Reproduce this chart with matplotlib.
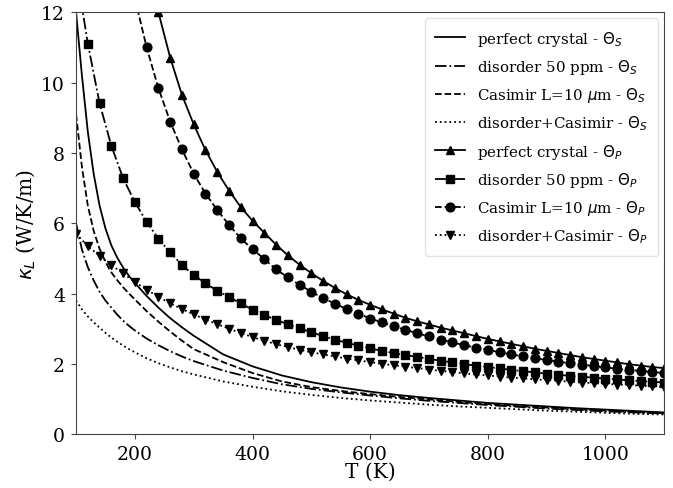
import matplotlib
matplotlib.use("Agg")
import matplotlib.pyplot as plt
import numpy as np

# Temperatures (K)
T_S = [100, 110, 120, 130, 140, 150, 160, 170, 180, 190, 200, 220, 240, 260, 280,
       300, 350, 400, 450, 500, 550, 600, 650, 700, 750, 800, 850, 900, 950, 1000,
       1050, 1100]
T_P = list(range(100, 1101, 20))

# Theta_S series (lines only)
perfect_S = [12.0, 10.2, 8.6, 7.4, 6.5, 5.85, 5.37, 5.02, 4.74, 4.50, 4.30, 3.93, 3.60,
             3.30, 3.04, 2.80, 2.27, 1.93, 1.67, 1.48, 1.33, 1.21, 1.11, 1.03, 0.96,
             0.89, 0.84, 0.79, 0.74, 0.70, 0.66, 0.62]
disorder_S = [6.0, 5.25, 4.75, 4.37, 4.05, 3.80, 3.60, 3.40, 3.23, 3.08, 2.95, 2.72,
              2.53, 2.36, 2.21, 2.08, 1.81, 1.60, 1.42, 1.29, 1.19, 1.10, 1.02, 0.95,
              0.89, 0.83, 0.78, 0.73, 0.69, 0.65, 0.62, 0.59]
casimir_S = [9.1, 7.6, 6.5, 5.78, 5.27, 4.90, 4.60, 4.38, 4.18, 4.0, 3.83, 3.50, 3.20,
             2.92, 2.66, 2.42, 2.05, 1.74, 1.50, 1.34, 1.23, 1.14, 1.06, 0.99, 0.92,
             0.86, 0.80, 0.76, 0.71, 0.67, 0.63, 0.60]
dc_S = [3.8, 3.55, 3.35, 3.18, 3.03, 2.88, 2.75, 2.63, 2.52, 2.42, 2.33, 2.16, 2.02,
        1.90, 1.79, 1.70, 1.50, 1.35, 1.22, 1.12, 1.03, 0.96, 0.90, 0.84, 0.79, 0.75,
        0.71, 0.67, 0.64, 0.61, 0.58, 0.56]

# Theta_P series (lines + markers), every 20 K from 100 K
perfect_P = [None]*7 + [12.0, 10.71, 9.65, 8.81, 8.08, 7.46, 6.93, 6.46, 6.07, 5.73,
             5.39, 5.09, 4.82, 4.58, 4.36, 4.16, 3.98, 3.82, 3.68, 3.55, 3.43, 3.31,
             3.21, 3.12, 3.03, 2.95, 2.87, 2.79, 2.71, 2.64, 2.57, 2.50, 2.43, 2.37,
             2.31, 2.25, 2.19, 2.14, 2.09, 2.04, 1.99, 1.95, 1.91, 1.88]
disorder_P = [13.2, 11.11, 9.41, 8.20, 7.28, 6.60, 6.04, 5.56, 5.17, 4.81, 4.53, 4.29,
              4.08, 3.90, 3.72, 3.54, 3.39, 3.25, 3.13, 3.01, 2.90, 2.79, 2.69, 2.60,
              2.52, 2.44, 2.37, 2.31, 2.25, 2.20, 2.14, 2.09, 2.04, 1.99, 1.95, 1.91,
              1.87, 1.83, 1.79, 1.76, 1.72, 1.69, 1.66, 1.63, 1.61, 1.58, 1.56, 1.53,
              1.51, 1.49, 1.47]
casimir_P = [None]*5 + [12.4, 11.0, 9.84, 8.89, 8.10, 7.41, 6.84, 6.38, 5.95, 5.57,
             5.26, 4.98, 4.69, 4.46, 4.25, 4.05, 3.87, 3.71, 3.56, 3.43, 3.29, 3.18,
             3.07, 2.97, 2.87, 2.78, 2.69, 2.61, 2.53, 2.46, 2.40, 2.33, 2.27, 2.21,
             2.16, 2.11, 2.06, 2.02, 1.98, 1.94, 1.90, 1.86, 1.83, 1.80, 1.77, 1.74]
dc_P = [5.70, 5.35, 5.07, 4.81, 4.57, 4.33, 4.11, 3.91, 3.72, 3.56, 3.41, 3.26, 3.13,
        3.00, 2.88, 2.76, 2.66, 2.56, 2.48, 2.40, 2.33, 2.27, 2.21, 2.15, 2.10, 2.05,
        2.00, 1.96, 1.92, 1.88, 1.84, 1.80, 1.77, 1.73, 1.70, 1.67, 1.64, 1.61, 1.59,
        1.56, 1.54, 1.52, 1.49, 1.47, 1.45, 1.43, 1.41, 1.40, 1.38, 1.36, 1.35]

labels_S = [r"perfect crystal - $\Theta_S$", r"disorder 50 ppm - $\Theta_S$",
            r"Casimir L=10 $\mu$m - $\Theta_S$", r"disorder+Casimir - $\Theta_S$"]
labels_P = [r"perfect crystal - $\Theta_P$", r"disorder 50 ppm - $\Theta_P$",
            r"Casimir L=10 $\mu$m - $\Theta_P$", r"disorder+Casimir - $\Theta_P$"]

plt.rcParams['font.family'] = ['DejaVu Serif']
plt.rcParams['mathtext.fontset'] = 'dejavusans'

fig = plt.figure(figsize=(6.73, 4.89), dpi=100)
ax = fig.add_axes([0.113, 0.110, 0.874, 0.863])

styles = ['-', '-.', '--', ':']
markers = ['^', 's', 'o', 'v']
for ys, ls, lab in zip([perfect_S, disorder_S, casimir_S, dc_S], styles, labels_S):
    ax.plot(T_S, ys, color='black', ls=ls, lw=1.3, label=lab)


def arr(v):
    return np.array([np.nan if x is None else x for x in v], dtype=float)


for ys, ls, mk, lab in zip([perfect_P, disorder_P, casimir_P, dc_P], styles, markers, labels_P):
    ax.plot(T_P, arr(ys), color='black', ls=ls, lw=1.3, marker=mk, ms=6.3, label=lab)

ax.set_xlim(100, 1100)
ax.set_ylim(0, 12)
ax.set_xticks([200, 400, 600, 800, 1000])
ax.set_yticks([0, 2, 4, 6, 8, 10, 12])
ax.tick_params(labelsize=13.5, direction='out', length=3.5, pad=4.5, color='#444444')
for s in ax.spines.values():
    s.set_color('#444444')
ax.set_xlabel("T (K)", fontsize=14.5, labelpad=-1)
ax.set_ylabel(r"$\kappa_L$ (W/K/m)", fontsize=14.5, labelpad=3)

leg = ax.legend(loc='upper right', fontsize=10.8, frameon=True, borderaxespad=0.4,
                labelspacing=0.62, borderpad=0.7)
leg.get_frame().set_edgecolor('#dddddd')

fig.savefig("out.png", dpi=100)
